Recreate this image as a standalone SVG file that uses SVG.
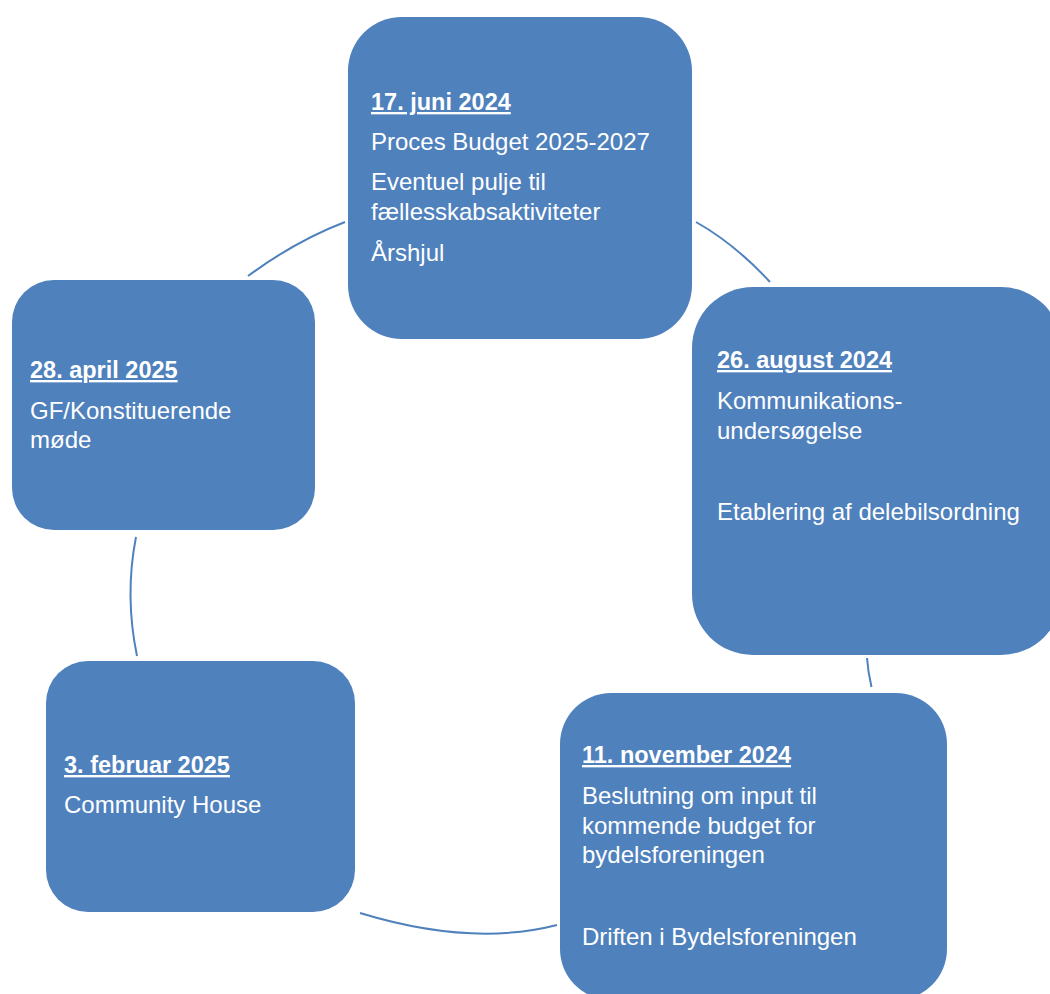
<svg xmlns="http://www.w3.org/2000/svg" width="1050" height="994" viewBox="0 0 1050 994">
<style>
.box{fill:#4F81BD;}
.conn{fill:none;stroke:#4F81BD;stroke-width:2;}
text{font-family:"Liberation Sans",Arial,sans-serif;font-size:24px;fill:#FFFFFF;}
.title{font-weight:bold;text-decoration:underline;font-size:23.5px;}
</style>
<rect width="1050" height="994" fill="#FFFFFF"/>
<g id="connectors">
<path class="conn" d="M248,276 Q295.5,241 345,222"/>
<path class="conn" d="M696,222 Q735,244 770,282"/>
<path class="conn" d="M867,658 Q868,672 871.5,687"/>
<path class="conn" d="M557,925 Q471.5,947 360,913"/>
<path class="conn" d="M137,656 Q124.5,595.5 136,537"/>
</g>
<g id="node-juni">
<rect class="box" x="348" y="17" width="344" height="322" rx="54" ry="54"/>
<text x="371" y="110" class="title">17. juni 2024</text>
<text x="371" y="150">Proces Budget 2025-2027</text>
<text x="371" y="190">Eventuel pulje til</text>
<text x="371" y="220">fællesskabsaktiviteter</text>
<text x="371" y="261">Årshjul</text>
</g>
<g id="node-august">
<rect class="box" x="692" y="287" width="370" height="368" rx="61" ry="61"/>
<text x="717" y="368" class="title">26. august 2024</text>
<text x="717" y="409">Kommunikations-</text>
<text x="717" y="439">undersøgelse</text>
<text x="717" y="520">Etablering af delebilsordning</text>
</g>
<g id="node-november">
<rect class="box" x="560" y="693" width="387" height="307" rx="51" ry="51"/>
<text x="582" y="763" class="title">11. november 2024</text>
<text x="582" y="804">Beslutning om input til</text>
<text x="582" y="834">kommende budget for</text>
<text x="582" y="863">bydelsforeningen</text>
<text x="582" y="945">Driften i Bydelsforeningen</text>
</g>
<g id="node-februar">
<rect class="box" x="46" y="661" width="309" height="251" rx="42" ry="42"/>
<text x="64" y="773" class="title">3. februar 2025</text>
<text x="64" y="813">Community House</text>
</g>
<g id="node-april">
<rect class="box" x="12" y="280" width="303" height="250" rx="42" ry="42"/>
<text x="30" y="378" class="title">28. april 2025</text>
<text x="30" y="419">GF/Konstituerende</text>
<text x="30" y="448">møde</text>
</g>
</svg>
